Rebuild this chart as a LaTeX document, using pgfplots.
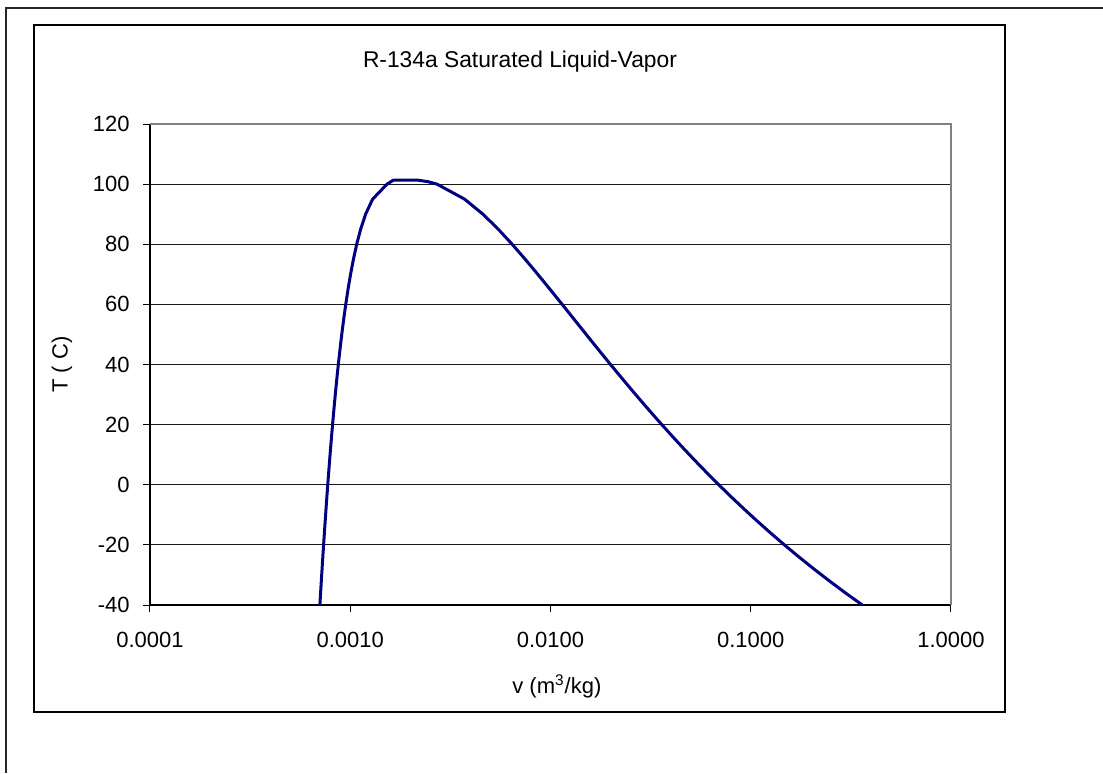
\documentclass[border=0pt]{standalone}
\usepackage{fontspec}
\setmainfont{Liberation Sans}
\usepackage{pgfplots}
\pgfplotsset{compat=1.18}
\definecolor{navyline}{RGB}{0,0,128}
\definecolor{frameGray}{RGB}{128,128,128}

\begin{document}
\begin{tikzpicture}[x=0.5pt,y=0.5pt]
\fill[white] (0,0) rectangle (1103,773);
\useasboundingbox (0,0) rectangle (1103,773);
% outer frame (only top and left show) and chart box
\draw[line width=1pt, black!85] (6,0) -- (6,765) -- (1103,765);
\draw[line width=0.6pt] (34,61) rectangle (1005,748);

\begin{axis}[
    at={(75pt,84pt)}, anchor=south west,
    scale only axis,
    width=400.5pt, height=240.5pt,
    xmode=log,
    xmin=0.0001, xmax=1,
    ymin=-40, ymax=120,
    xtick={0.0001,0.001,0.01,0.1,1},
    xticklabels={0.0001,0.0010,0.0100,0.1000,1.0000},
    ytick={-40,-20,0,20,40,60,80,100,120},
    yticklabels={-40,-20,0,20,40,60,80,100,120},
    xminorticks=false,
    axis x line*=bottom, axis y line*=left,
    axis line style={black, line width=0.6pt},
    tick align=outside,
    major tick length=3.5pt,
    tick style={black, line width=0.5pt},
    ymajorgrids,
    grid style={black!90, line width=0.5pt},
    tick label style={font=\fontsize{11}{13}\selectfont},
    xticklabel style={inner sep=0pt, anchor=north, yshift=-10pt},
    yticklabel style={inner sep=0pt, anchor=east, xshift=-6.5pt},
    title={R-134a Saturated Liquid-Vapor},
    every axis title/.style={font=\fontsize{11.4}{14}\selectfont, at={(axis description cs:0.4619,1.1179)}, anchor=base},
    xlabel={v (m\textsuperscript{3}/kg)},
    xlabel style={font=\fontsize{11}{13}\selectfont, at={(axis description cs:0.508,-0.183)}, anchor=base},
    ylabel={T ( C)},
    ylabel style={font=\fontsize{11}{13}\selectfont, at={(axis description cs:-0.11,0.5)}, anchor=center},
    clip=false,
]
\addplot[navyline, line width=1.5pt, line join=round] table {
0.0007054 -40
0.0007112 -36
0.0007172 -32
0.0007234 -28
0.0007297 -24
0.0007362 -20
0.0007430 -16
0.0007499 -12
0.0007571 -8
0.0007646 -4
0.0007723 0
0.0007804 4
0.0007887 8
0.0007975 12
0.0008066 16
0.0008161 20
0.0008261 24
0.0008366 28
0.0008478 32
0.0008595 36
0.0008720 40
0.0008854 44
0.0008996 48
0.0009150 52
0.0009317 56
0.0009498 60
0.0009750 65
0.0010037 70
0.0010372 75
0.0010772 80
0.0011270 85
0.0011932 90
0.0012933 95
0.0015269 100
0.00164 101.3
0.00219 101.3
0.00245 100.8
0.002712 100
0.003726 95
0.004599 90
0.005486 85
0.006436 80
0.007480 75
0.008642 70
0.009950 65
0.011434 60
0.012771 56
0.014265 52
0.015939 48
0.017824 44
0.019952 40
0.022364 36
0.025108 32
0.028242 28
0.031834 24
0.035969 20
0.040748 16
0.046295 12
0.052762 8
0.060338 4
0.069255 0
0.079804 -4
0.092352 -8
0.10736 -12
0.12542 -16
0.14729 -20
0.17395 -24
0.20666 -28
0.24711 -32
0.29751 -36
0.36081 -40
};
\draw[frameGray, line width=0.9pt] (rel axis cs:0,1) -- (rel axis cs:1,1) -- (rel axis cs:1,0);
\end{axis}
\end{tikzpicture}
\end{document}
